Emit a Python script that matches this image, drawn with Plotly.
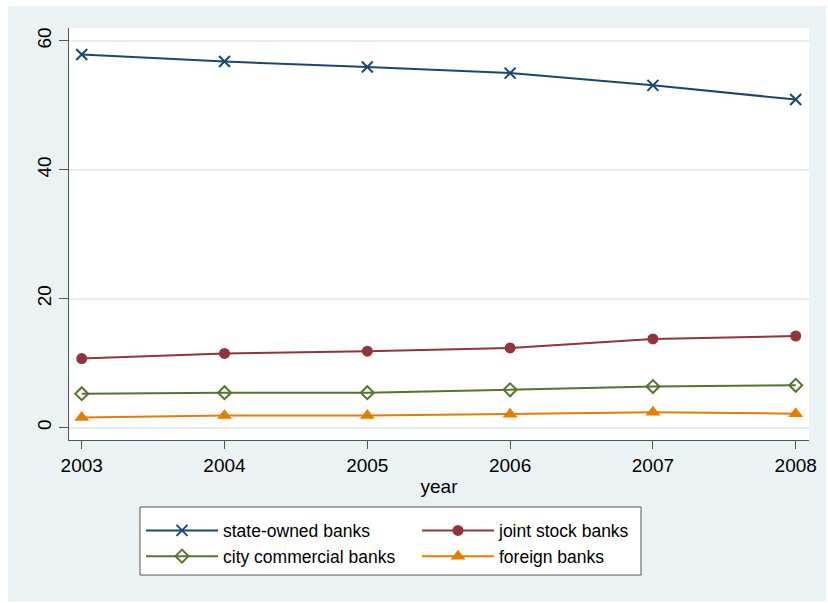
import plotly.graph_objects as go

years = [2003, 2004, 2005, 2006, 2007, 2008]
state_owned = [57.9, 56.8, 55.95, 55.0, 53.1, 50.9]
joint_stock = [10.7, 11.5, 11.85, 12.35, 13.75, 14.2]
city_commercial = [5.25, 5.4, 5.4, 5.85, 6.35, 6.55]
foreign = [1.55, 1.85, 1.85, 2.05, 2.35, 2.15]

names = ["state-owned banks", "joint stock banks", "city commercial banks", "foreign banks"]
colors = ["#1A476F", "#90353B", "#55752F", "#E37E00"]

W, H = 828, 603
L, R, T, B = 69, 809, 28, 440
pw, ph = R - L, B - T
BG = "#EAF2F3"

fig = go.Figure()

fig.add_trace(go.Scatter(x=years, y=state_owned, name=names[0], mode="lines+markers",
                         line=dict(color=colors[0], width=2),
                         marker=dict(symbol="x-thin", size=11, color=colors[0],
                                     line=dict(color=colors[0], width=2))))
fig.add_trace(go.Scatter(x=years, y=joint_stock, name=names[1], mode="lines+markers",
                         line=dict(color=colors[1], width=2),
                         marker=dict(symbol="circle", size=11, color=colors[1])))
fig.add_trace(go.Scatter(x=years, y=city_commercial, name=names[2], mode="lines+markers",
                         line=dict(color=colors[2], width=2),
                         marker=dict(symbol="diamond-open", size=10, color=colors[2],
                                     line=dict(color=colors[2], width=2))))
fig.add_trace(go.Scatter(x=years, y=foreign, name=names[3], mode="lines+markers",
                         line=dict(color=colors[3], width=2),
                         marker=dict(symbol="triangle-up", size=13, color=colors[3])))

axis_color = "#555555"

# outer background (with thin white margin at top/left) and white plot region
fig.add_shape(type="rect", xref="paper", yref="paper", layer="below",
              x0=(8 - L) / pw, x1=(826 - L) / pw, y0=(B - 601) / ph, y1=(B - 6) / ph,
              fillcolor=BG, line=dict(width=0))
fig.add_shape(type="rect", xref="paper", yref="paper", layer="below",
              x0=0, x1=1, y0=0, y1=1, fillcolor="white", line=dict(width=0))
# legend frame
fig.add_shape(type="rect", xref="paper", yref="paper", layer="below",
              x0=(140 - L) / pw, x1=(641 - L) / pw, y0=(B - 575) / ph, y1=(B - 507) / ph,
              fillcolor="white", line=dict(color=axis_color, width=1))

fig.update_layout(
    width=W, height=H,
    margin=dict(l=L, r=W - R, t=T, b=H - B),
    paper_bgcolor="white",
    plot_bgcolor="white",
    font=dict(family="Liberation Sans, Arial, sans-serif", color="black"),
    showlegend=True,
    legend=dict(orientation="h", xref="container", yref="container",
                x=141 / W, xanchor="left", y=1 - 512.5 / H, yanchor="top",
                bgcolor="rgba(0,0,0,0)", borderwidth=0,
                font=dict(size=17.5), entrywidth=189, entrywidthmode="pixels",
                itemwidth=72, traceorder="normal"),
    xaxis=dict(range=[2002.911, 2008.093], tickvals=years, ticktext=[str(y) for y in years],
               showgrid=False, zeroline=False, showline=True, linecolor=axis_color, linewidth=1,
               ticks="outside", ticklen=8, tickcolor=axis_color, tickfont=dict(size=19),
               title=dict(text="year", font=dict(size=19), standoff=4)),
    yaxis=dict(range=[-1.94, 62.0], tickvals=[0, 20, 40, 60],
               showgrid=True, gridcolor="#E3ECEF", gridwidth=1.5, zeroline=False,
               showline=True, linecolor=axis_color, linewidth=1,
               ticks="outside", ticklen=9, tickcolor=axis_color, tickangle=-90,
               tickfont=dict(size=19)),
)

fig.write_html("out.html")
